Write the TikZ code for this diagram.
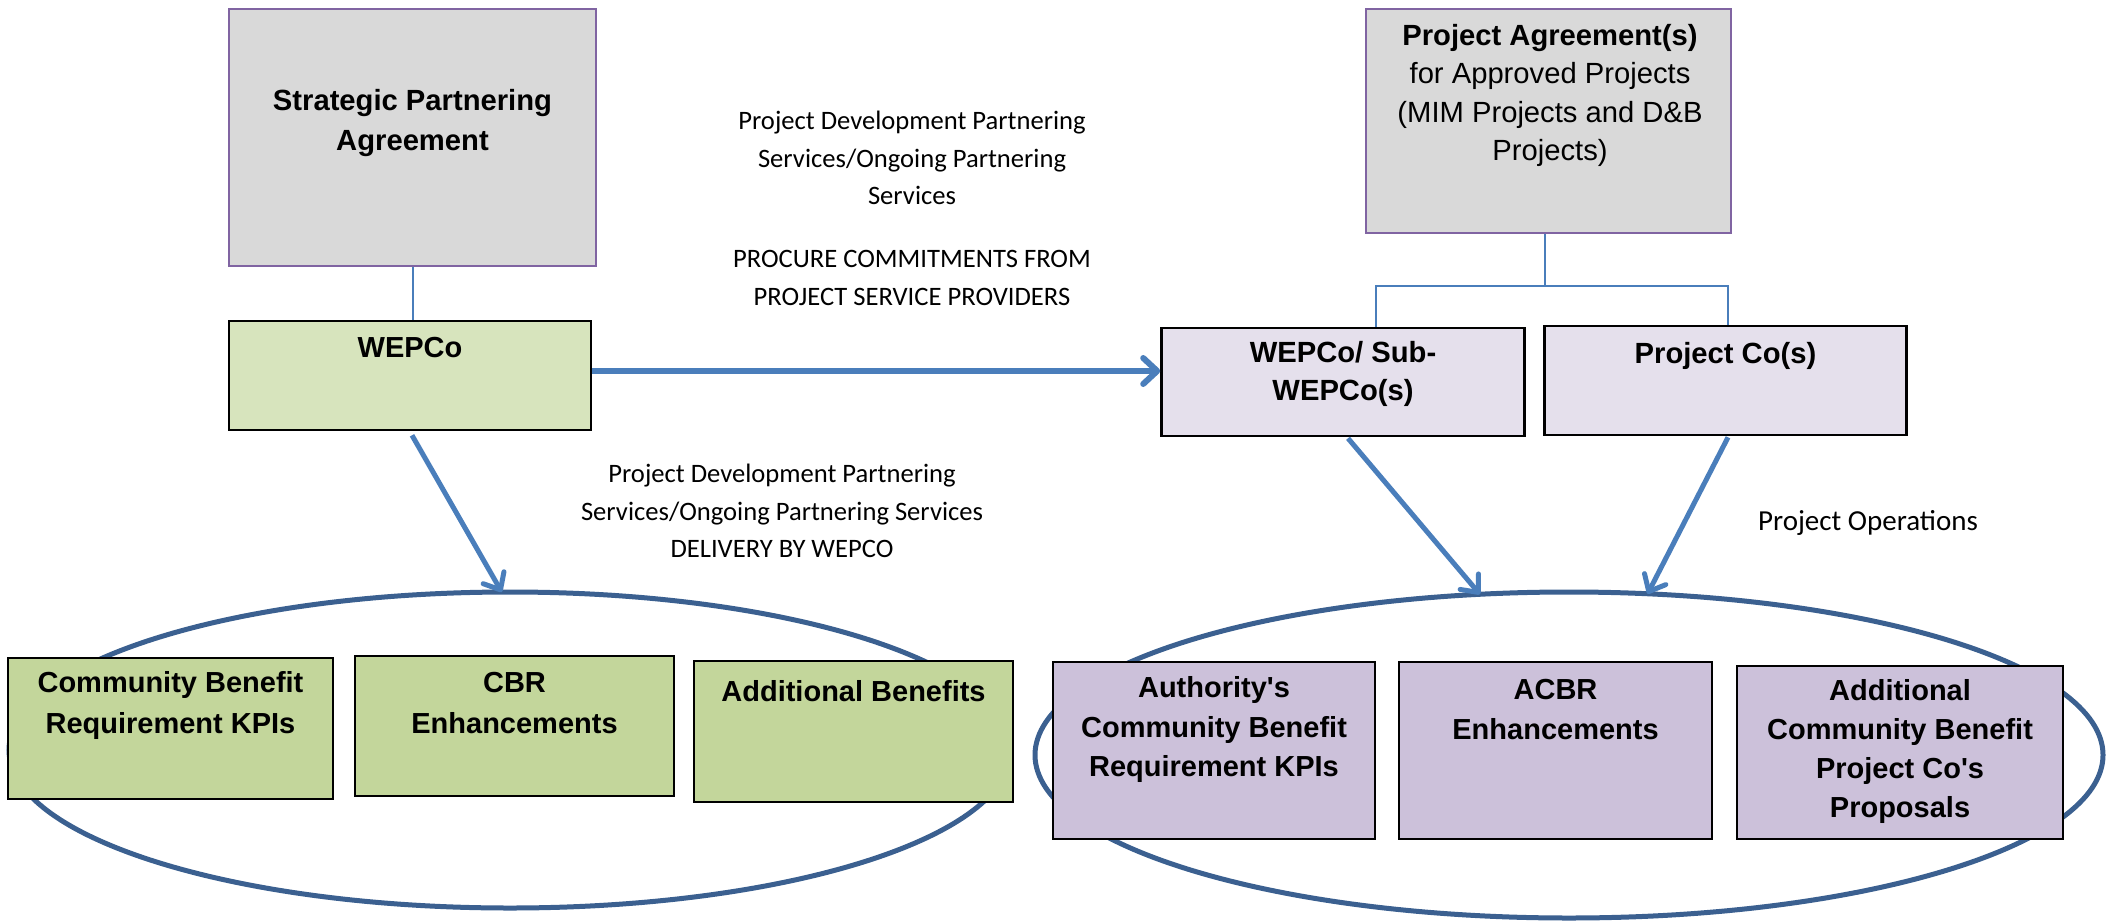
\documentclass[tikz,border=0pt]{standalone}
\usepackage{fontspec}
\setmainfont{Liberation Sans}[Ligatures=TeXOff]
\newfontfamily\calfont{Carlito}
\usetikzlibrary{arrows.meta,shapes.geometric}
\definecolor{arrowblue}{HTML}{4A7EBB}
\definecolor{ellblue}{HTML}{3B6090}
\definecolor{greyfill}{HTML}{D9D9D9}
\definecolor{purpborder}{HTML}{8064A2}
\definecolor{lightgreen}{HTML}{D7E4BD}
\definecolor{midgreen}{HTML}{C3D69B}
\definecolor{lightlav}{HTML}{E5E0EC}
\definecolor{midlav}{HTML}{CCC1DA}
\tikzset{
  agreebox/.style={draw=purpborder, fill=greyfill, line width=1pt, rectangle, inner sep=0pt},
  blackbox/.style={draw=black, line width=1.3pt, rectangle, inner sep=0pt},
  boxtext/.style={align=center, inner sep=0pt, font=\bfseries\fontsize{14.5}{20.5}\selectfont},
  bigtext/.style={align=center, inner sep=0pt, font=\bfseries\fontsize{14.6}{19}\selectfont},
  freetext/.style={align=center, inner sep=0pt, font=\calfont\fontsize{13.3}{18.75}\selectfont},
  thinline/.style={draw=arrowblue, line width=1pt},
  bigarrow/.style={draw=arrowblue, line width=3pt, -{Straight Barb[length=7pt,width=13pt,round]}},
  diagarrow/.style={draw=arrowblue, line width=2.5pt, -{Straight Barb[length=7pt,width=12pt,round]}},
  ellbox/.style={ellipse, draw=ellblue, line width=2.5pt, inner sep=0pt, outer sep=0pt}
}
\begin{document}
\begin{tikzpicture}[x=0.5pt,y=-0.5pt]
\useasboundingbox (0,0) rectangle (2107,920);
% ellipses
\node[ellbox, minimum width=501pt, minimum height=158pt] (ellL) at (510,750) {};
\node[ellbox, minimum width=534pt, minimum height=163pt] (ellR) at (1569,755) {};
% top boxes
\node[agreebox, minimum width=183.5pt, minimum height=128.5pt] (SPA) at (412.5,137.5) {};
\node[boxtext, font=\bfseries\fontsize{14.6}{20}\selectfont] (SPAt) at (412.5,123) {Strategic Partnering\\Agreement};
\node[agreebox, minimum width=182.5pt, minimum height=112pt] (PA) at (1548.5,121) {};
\node[align=center, inner sep=0pt, font=\fontsize{14.6}{19.3}\selectfont] (PAt) at (1550,95.5) {\textbf{Project Agreement(s)}\\for Approved Projects\\(MIM Projects and D\&B\\Projects)};
% middle boxes
\node[blackbox, fill=lightgreen, minimum width=181pt, minimum height=54.5pt] (WEPCo) at (410,375.5) {};
\node[boxtext] (WEPCot) at (410,348) {WEPCo};
\node[blackbox, fill=lightlav, minimum width=181.5pt, minimum height=54pt] (WSub) at (1343,382) {};
\node[bigtext] (WSubt) at (1343,374) {WEPCo/ Sub-\\WEPCo(s)};
\node[blackbox, fill=lightlav, minimum width=181pt, minimum height=54.5pt] (PCo) at (1725.5,380.5) {};
\node[bigtext] (PCot) at (1725.5,356) {Project Co(s)};
% bottom left boxes
\node[blackbox, fill=midgreen, minimum width=162.5pt, minimum height=70.5pt] (L1) at (170.5,728.5) {};
\node[boxtext] (L1t) at (170.5,705.5) {Community Benefit\\Requirement KPIs};
\node[blackbox, fill=midgreen, minimum width=159.5pt, minimum height=70pt] (L2) at (514.5,726) {};
\node[boxtext] (L2t) at (514.5,703) {CBR\\Enhancements};
\node[blackbox, fill=midgreen, minimum width=159.5pt, minimum height=70.5pt] (L3) at (853.5,731.5) {};
\node[boxtext] (L3t) at (853.5,691) {Additional Benefits};
% bottom right boxes
\node[blackbox, fill=midlav, minimum width=161pt, minimum height=88.5pt] (R1) at (1214,750.5) {};
\node[boxtext, font=\bfseries\fontsize{14.5}{19.7}\selectfont] (R1t) at (1214,729.5) {Authority's\\Community Benefit\\Requirement KPIs};
\node[blackbox, fill=midlav, minimum width=156.5pt, minimum height=88.5pt] (R2) at (1555.5,750.5) {};
\node[boxtext, font=\bfseries\fontsize{14.5}{20}\selectfont] (R2t) at (1555.5,710) {ACBR\\Enhancements};
\node[blackbox, fill=midlav, minimum width=163pt, minimum height=86.5pt] (R3) at (1900,752.5) {};
\node[boxtext, font=\bfseries\fontsize{14.5}{19.5}\selectfont] (R3t) at (1900,751.5) {Additional\\Community Benefit\\Project Co's\\Proposals};
% free texts
\node[freetext] (topt) at (912,208.5) {Project Development Partnering\\Services/Ongoing Partnering\\Services\\[12.75pt]PROCURE COMMITMENTS FROM\\PROJECT SERVICE PROVIDERS};
\node[freetext] (midt) at (782,511) {Project Development Partnering\\Services/Ongoing Partnering Services\\DELIVERY BY WEPCO};
\node[freetext, font=\calfont\fontsize{14.5}{18}\selectfont] (opt) at (1868,523) {Project Operations};
% connectors
\coordinate (brL) at (1375.5,286);
\coordinate (brR) at (1727.5,286);
\coordinate (hy) at (0,371);
\draw[thinline] (SPA.south) -- (SPA.south |- WEPCo.north);
\draw[thinline] ([xshift=-2pt]PA.south) -- ([xshift=-2pt]PA.south |- brL);
\draw[thinline] (brL |- WSub.north) -- (brL) -- (brR) -- (brR |- PCo.north);
\draw[bigarrow] (WEPCo.east |- hy) -- (WSub.west |- hy);
\draw[diagarrow] ([xshift=1pt,yshift=-2pt]WEPCo.south) -- (ellL.93);
\draw[diagarrow] ([xshift=2.5pt,yshift=-0.5pt]WSub.south) -- (ellR.119.5);
\draw[diagarrow] ([xshift=1.25pt,yshift=-0.5pt]PCo.south) -- (ellR.64.4);
\end{tikzpicture}
\end{document}
